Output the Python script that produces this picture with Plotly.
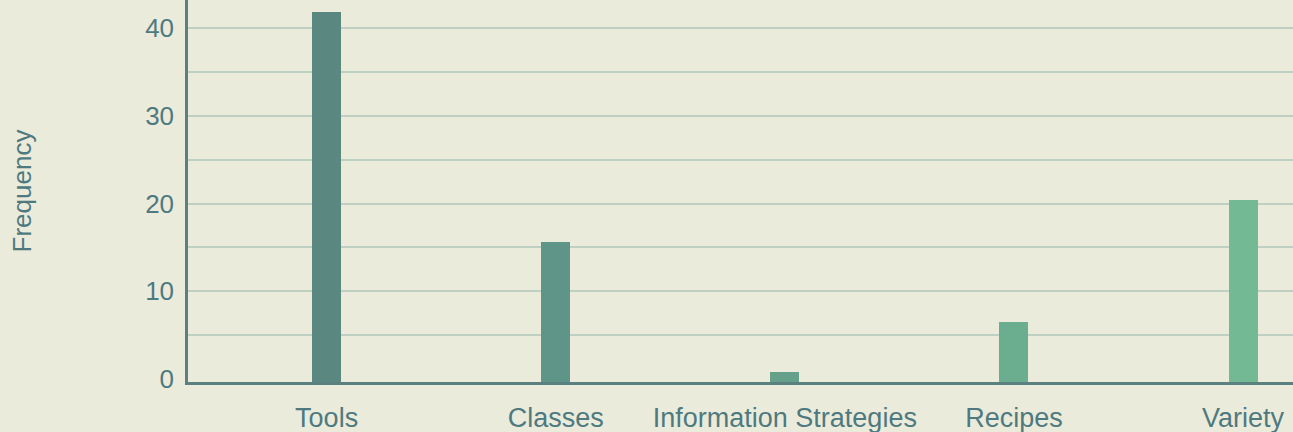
import plotly.graph_objects as go

categories = ["Tools", "Classes", "Information Strategies", "Recipes", "Variety"]
values = [41.85, 15.6, 0.8, 6.5, 20.4]
bar_colors = ["#5a8880", "#5f9488", "#65a08b", "#6aad8f", "#72b994"]
y_tick_vals = [0, 10, 20, 30, 40]
y_tick_text = ["0", "10", "20", "30", "40"]

BG = "#ebebdc"
GRID = "#bdd0c2"
AXIS = "#5a8080"
TEXT = "#4e7a7f"
FONT = "Liberation Sans, Arial, Helvetica, sans-serif"

axis_floor = -0.33

fig = go.Figure(
    go.Bar(
        x=categories,
        y=[v - axis_floor for v in values],
        base=axis_floor,
        marker=dict(color=bar_colors, line=dict(width=0)),
        width=0.127,
        hovertext=[f"{c}: {v}" for c, v in zip(categories, values)],
        hoverinfo="text",
    )
)

fig.update_layout(
    width=1293,
    height=432,
    margin=dict(l=188, r=0, t=0, b=50, autoexpand=False),
    paper_bgcolor=BG,
    plot_bgcolor=BG,
    font=dict(family=FONT, size=26, color=TEXT),
    showlegend=False,
    bargap=0,
)

fig.update_xaxes(
    type="category",
    range=[-0.605, 4.218],
    automargin=False,
    showgrid=False,
    showline=True,
    linecolor=AXIS,
    linewidth=2.5,
    ticks="",
    ticklabelstandoff=10,
    tickfont=dict(size=27, color=TEXT),
)

fig.update_yaxes(
    range=[axis_floor, 43.2],
    automargin=False,
    tickvals=y_tick_vals,
    ticktext=y_tick_text,
    showgrid=True,
    gridcolor=GRID,
    gridwidth=1.5,
    zeroline=True,
    zerolinecolor=BG,
    zerolinewidth=2,
    minor=dict(dtick=5, showgrid=True, gridcolor=GRID, gridwidth=1.5),
    showline=True,
    linecolor=AXIS,
    linewidth=2.5,
    ticks="",
    ticklabelstandoff=6,
    tickfont=dict(size=26, color=TEXT),
    title=dict(text="Frequency", font=dict(size=26, color=TEXT), standoff=107),
)

fig.write_html(
    "out.html",
    config={"displayModeBar": False},
    post_script="document.body.style.margin='0';document.body.style.background='%s';" % BG,
)
